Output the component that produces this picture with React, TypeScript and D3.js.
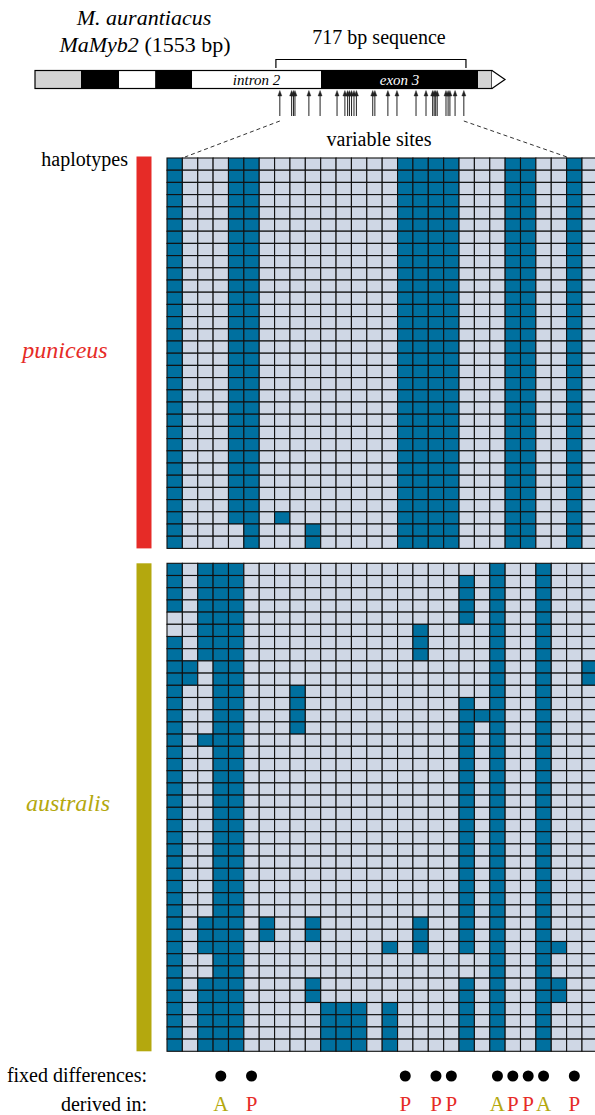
import React from "react";
import * as d3 from "d3";

// haplotype rows, one char per variable site (1 = dark / derived state)
const puniceusHaplotypes = [
  "1000 1100 0000 0001 1110 0011 0010",
  "1000 1100 0000 0001 1110 0011 0010",
  "1000 1100 0000 0001 1110 0011 0010",
  "1000 1100 0000 0001 1110 0011 0010",
  "1000 1100 0000 0001 1110 0011 0010",
  "1000 1100 0000 0001 1110 0011 0010",
  "1000 1100 0000 0001 1110 0011 0010",
  "1000 1100 0000 0001 1110 0011 0010",
  "1000 1100 0000 0001 1110 0011 0010",
  "1000 1100 0000 0001 1110 0011 0010",
  "1000 1100 0000 0001 1110 0011 0010",
  "1000 1100 0000 0001 1110 0011 0010",
  "1000 1100 0000 0001 1110 0011 0010",
  "1000 1100 0000 0001 1110 0011 0010",
  "1000 1100 0000 0001 1110 0011 0010",
  "1000 1100 0000 0001 1110 0011 0010",
  "1000 1100 0000 0001 1110 0011 0010",
  "1000 1100 0000 0001 1110 0011 0010",
  "1000 1100 0000 0001 1110 0011 0010",
  "1000 1100 0000 0001 1110 0011 0010",
  "1000 1100 0000 0001 1110 0011 0010",
  "1000 1100 0000 0001 1110 0011 0010",
  "1000 1100 0000 0001 1110 0011 0010",
  "1000 1100 0000 0001 1110 0011 0010",
  "1000 1100 0000 0001 1110 0011 0010",
  "1000 1100 0000 0001 1110 0011 0010",
  "1000 1100 0000 0001 1110 0011 0010",
  "1000 1100 0000 0001 1110 0011 0010",
  "1000 1100 0000 0001 1110 0011 0010",
  "1000 1101 0000 0001 1110 0011 0010",
  "1000 0100 0100 0001 1110 0011 0010",
  "1000 0100 0100 0001 1110 0011 0010",
];

const australisHaplotypes = [
  "1011 1000 0000 0000 0000 0100 1000",
  "1011 1000 0000 0000 0001 0100 1000",
  "1011 1000 0000 0000 0001 0100 1000",
  "1011 1000 0000 0000 0001 0100 1000",
  "0011 1000 0000 0000 0001 0100 1000",
  "0011 1000 0000 0000 1000 0100 1000",
  "1011 1000 0000 0000 1000 0100 1000",
  "1011 1000 0000 0000 1000 0100 1000",
  "1101 1000 0000 0000 0000 0100 1001",
  "1101 1000 0000 0000 0000 0100 1001",
  "1001 1000 1000 0000 0000 0100 1000",
  "1001 1000 1000 0000 0001 0100 1000",
  "1001 1000 1000 0000 0001 1100 1000",
  "1001 1000 1000 0000 0001 0100 1000",
  "1011 1000 0000 0000 0001 0100 1000",
  "1001 1000 0000 0000 0001 0100 1000",
  "1001 1000 0000 0000 0001 0100 1000",
  "1001 1000 0000 0000 0001 0100 1000",
  "1001 1000 0000 0000 0001 0100 1000",
  "1001 1000 0000 0000 0001 0100 1000",
  "1001 1000 0000 0000 0001 0100 1000",
  "1001 1000 0000 0000 0001 0100 1000",
  "1001 1000 0000 0000 0001 0100 1000",
  "1001 1000 0000 0000 0001 0100 1000",
  "1001 1000 0000 0000 0001 0100 1000",
  "1001 1000 0000 0000 0001 0100 1000",
  "1001 1000 0000 0000 0001 0100 1000",
  "1001 1000 0000 0000 0001 0100 1000",
  "1001 1000 0000 0000 0001 0100 1000",
  "1011 1010 0100 0000 1001 0100 1000",
  "1011 1010 0100 0000 1001 0100 1000",
  "1011 1000 0000 0010 1001 0100 1100",
  "1001 1000 0000 0000 0000 0100 1000",
  "1001 1000 0000 0000 0000 0100 1000",
  "1011 1000 0100 0000 0001 0100 1100",
  "1011 1000 0100 0000 0001 0100 1100",
  "1011 1000 0011 1010 0001 0100 1000",
  "1011 1000 0011 1010 0001 0100 1000",
  "1011 1000 0011 1010 0001 0100 1000",
  "1011 1000 0011 1010 0001 0100 1000",
];

const fixedSites = [3, 5, 15, 17, 18, 21, 22, 23, 24, 26];
const derivedIn = ["A", "P", "P", "P", "P", "A", "P", "P", "A", "P"];

// gene model, positions in bp (drawn schematically)
const geneLength = 1553;
const geneSegments = [
  { start: 0, end: 152, kind: "utr" },
  { start: 152, end: 278, kind: "exon" },
  { start: 278, end: 397, kind: "intron" },
  { start: 397, end: 519, kind: "exon" },
  { start: 519, end: 945, kind: "intron", label: "intron 2" },
  { start: 945, end: 1464, kind: "exon", label: "exon 3" },
  { start: 1464, end: 1510, kind: "utr" },
];
const sequencedRegion = [796, 1424];
const variableSites = [
  809, 848, 854, 859, 905, 942, 998, 1024, 1033, 1039, 1046, 1054, 1062, 1116,
  1123, 1166, 1196, 1259, 1292, 1314, 1319, 1324, 1329, 1358, 1365, 1371, 1388,
  1417,
];

const DARK = "#00709f";
const LIGHT = "#cfd7e5";
const RED = "#e62b27";
const OLIVE = "#b4a80e";
const serif = "'Liberation Serif', 'Times New Roman', serif";

const nCols = 28;
const cellW = 15.37;
const cellH = 12.2;
const gridX = 167;

function parseRow(s: string) {
  return s.replace(/ /g, "").split("").map((c) => c === "1");
}

function HaplotypeGrid({ rows, top }: { rows: string[]; top: number }) {
  const x = d3
    .scaleBand<number>()
    .domain(d3.range(nCols))
    .range([gridX, gridX + nCols * cellW]);
  const y = d3
    .scaleBand<number>()
    .domain(d3.range(rows.length))
    .range([top, top + rows.length * cellH]);
  return (
    <g>
      {rows.map((r, i) =>
        parseRow(r).map((on, j) => (
          <rect
            key={i + "-" + j}
            x={x(j)}
            y={y(i)}
            width={x.bandwidth()}
            height={y.bandwidth()}
            fill={on ? DARK : LIGHT}
            stroke="#111"
            strokeWidth={1.1}
          />
        ))
      )}
    </g>
  );
}

export default function App() {
  const gx = d3.scaleLinear().domain([0, geneLength]).range([35, 505]);
  const barTop = 70.5;
  const barBot = 88.5;
  const barMid = (barTop + barBot) / 2;
  const colCenter = (j: number) => gridX + j * cellW + cellW / 2;

  const punTop = 158;
  const ausTop = 563.3;
  const punBot = punTop + puniceusHaplotypes.length * cellH;
  const ausBot = ausTop + australisHaplotypes.length * cellH;

  return (
    <div>
      <style>{"body{margin:0}"}</style>
      <svg width={595} height={1115} fontFamily={serif}>
        {/* title */}
        <text x={144} y={25} textAnchor="middle" fontSize={22} fontStyle="italic">
          M. aurantiacus
        </text>
        <text x={145} y={52} textAnchor="middle" fontSize={22}>
          <tspan fontStyle="italic">MaMyb2</tspan> (1553 bp)
        </text>

        {/* sequenced region bracket */}
        <text x={379} y={44} textAnchor="middle" fontSize={20}>
          717 bp sequence
        </text>
        <path
          d={`M${gx(sequencedRegion[0])},68 V59.5 H${gx(sequencedRegion[1])} V68`}
          fill="none"
          stroke="#000"
          strokeWidth={1.2}
        />

        {/* gene bar */}
        {geneSegments.map((s, i) => (
          <rect
            key={i}
            x={gx(s.start)}
            y={barTop}
            width={gx(s.end) - gx(s.start)}
            height={barBot - barTop}
            fill={s.kind === "exon" ? "#000" : s.kind === "utr" ? "#d3d3d3" : "#fff"}
          />
        ))}
        <rect
          x={gx(0)}
          y={barTop}
          width={gx(1510) - gx(0)}
          height={barBot - barTop}
          fill="none"
          stroke="#000"
          strokeWidth={1.2}
        />
        <path
          d={`M${gx(1510)},${barTop} L${gx(geneLength)},${barMid} L${gx(1510)},${barBot}`}
          fill="#fff"
          stroke="#000"
          strokeWidth={1.2}
        />
        {geneSegments
          .filter((s) => s.label)
          .map((s, i) => (
            <text
              key={i}
              x={(gx(s.start) + gx(s.end)) / 2}
              y={barMid + 5}
              textAnchor="middle"
              fontSize={15}
              fontStyle="italic"
              fill={s.kind === "exon" ? "#fff" : "#000"}
            >
              {s.label}
            </text>
          ))}

        {/* variable site arrows */}
        {variableSites.map((v, i) => (
          <g key={i} stroke="#222" fill="#222">
            <line x1={gx(v)} x2={gx(v)} y1={116} y2={94} strokeWidth={1} />
            <path
              d={`M${gx(v)},90.5 L${gx(v) - 2},96 L${gx(v) + 2},96 Z`}
              strokeWidth={0.4}
            />
          </g>
        ))}
        <line
          x1={gx(variableSites[0])}
          y1={121}
          x2={185}
          y2={157}
          stroke="#333"
          strokeDasharray="4,3"
        />
        <line
          x1={gx(variableSites[variableSites.length - 1])}
          y1={121}
          x2={567}
          y2={157}
          stroke="#333"
          strokeDasharray="4,3"
        />
        <text x={379} y={146} textAnchor="middle" fontSize={20}>
          variable sites
        </text>

        {/* populations */}
        <text x={128} y={166} textAnchor="end" fontSize={20}>
          haplotypes
        </text>
        <rect x={136.5} y={156.5} width={15} height={punBot - 156.5} fill={RED} />
        <rect x={136.5} y={ausTop} width={15} height={ausBot - ausTop} fill={OLIVE} />
        <text x={65} y={358} textAnchor="middle" fontSize={24} fontStyle="italic" fill={RED}>
          puniceus
        </text>
        <text x={68} y={811} textAnchor="middle" fontSize={24} fontStyle="italic" fill={OLIVE}>
          australis
        </text>

        <HaplotypeGrid rows={puniceusHaplotypes} top={punTop} />
        <HaplotypeGrid rows={australisHaplotypes} top={ausTop} />

        {/* fixed differences */}
        <text x={147} y={1082} textAnchor="end" fontSize={20}>
          fixed differences:
        </text>
        <text x={147} y={1111} textAnchor="end" fontSize={20}>
          derived in:
        </text>
        {fixedSites.map((c, i) => (
          <g key={i}>
            <circle cx={colCenter(c)} cy={1076} r={5.5} fill="#000" />
            <text
              x={colCenter(c)}
              y={1111}
              textAnchor="middle"
              fontSize={21}
              fill={derivedIn[i] === "A" ? OLIVE : RED}
            >
              {derivedIn[i]}
            </text>
          </g>
        ))}
      </svg>
    </div>
  );
}
